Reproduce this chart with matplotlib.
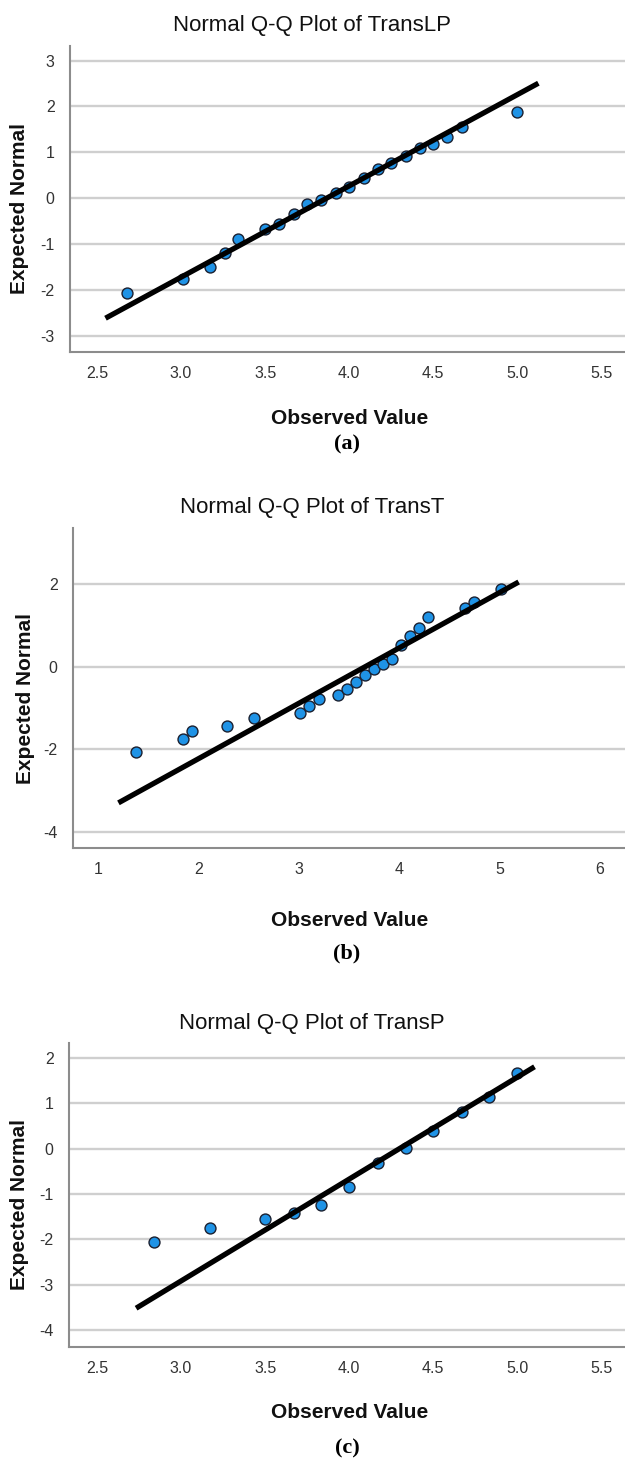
import numpy as np
import matplotlib.pyplot as plt

# panel (a) TransLP
lp_x = [2.68, 3.01, 3.17, 3.26, 3.34, 3.50, 3.58, 3.67, 3.75, 3.83, 3.92,
        4.00, 4.09, 4.17, 4.25, 4.34, 4.42, 4.50, 4.58, 4.67, 5.00]
lp_y = [-2.08, -1.77, -1.50, -1.19, -0.89, -0.68, -0.57, -0.35, -0.13, -0.03, 0.12,
        0.24, 0.43, 0.63, 0.76, 0.93, 1.10, 1.18, 1.34, 1.55, 1.89]
lp_fit = dict(mean=3.866, sd=0.502, xmin=2.551, xmax=5.125)

# panel (b) TransT
t_x = [1.38, 1.84, 1.93, 2.28, 2.55, 3.01, 3.10, 3.20, 3.39, 3.48, 3.57,
       3.66, 3.75, 3.84, 3.93, 4.02, 4.11, 4.20, 4.29, 4.65, 4.74, 5.01]
t_y = [-2.06, -1.76, -1.56, -1.43, -1.24, -1.11, -0.95, -0.79, -0.69, -0.53, -0.36,
       -0.20, -0.06, 0.07, 0.20, 0.53, 0.75, 0.95, 1.20, 1.42, 1.58, 1.90]
t_fit = dict(mean=3.657, sd=0.745, xmin=1.20, xmax=5.19)

# panel (c) TransP
p_x = [2.84, 3.17, 3.50, 3.67, 3.83, 4.00, 4.17, 4.34, 4.50, 4.67, 4.83, 5.00]
p_y = [-2.07, -1.76, -1.56, -1.43, -1.25, -0.85, -0.33, 0.01, 0.39, 0.81, 1.14, 1.67]
p_fit = dict(mean=4.30, sd=0.445, xmin=2.733, xmax=5.102)

titles = ['Normal Q-Q Plot of TransLP', 'Normal Q-Q Plot of TransT', 'Normal Q-Q Plot of TransP']
captions = ['(a)', '(b)', '(c)']
xticks_all = [[2.5, 3.0, 3.5, 4.0, 4.5, 5.0, 5.5], [1, 2, 3, 4, 5, 6], [2.5, 3.0, 3.5, 4.0, 4.5, 5.0, 5.5]]
xfmt = ['{:.1f}', '{:d}', '{:.1f}']
yticks_all = [[-3, -2, -1, 0, 1, 2, 3], [-4, -2, 0, 2], [-4, -3, -2, -1, 0, 1, 2]]
xlims = [(2.34, 5.64), (0.746, 6.25), (2.334, 5.64)]
ylims = [(-3.35, 3.32), (-4.40, 3.36), (-4.37, 2.32)]

W, H = 625.0, 1462.0
# pixel layout: axes left, top, bottom; title y, ylabel x/y, xlabel y, caption y
boxes = [(70, 46, 351.7), (72.9, 528.3, 848.3), (69, 1043.3, 1346.7)]
title_y = [26, 507, 1023]
ylab_xy = [(20, 209), (26, 698), (20, 1205)]
xlab_y = [419, 920, 1413]
cap_y = [444, 953, 1448]

SANS = ['Liberation Sans', 'DejaVu Sans']
BLUE = '#1f93e6'

fig = plt.figure(figsize=(W / 100, H / 100), dpi=100)

def ftext(x, y, s, **kw):
    return fig.text(x / W, 1 - y / H, s, ha='center', va='center', **kw)

def qq_panel(i, xs, ys, fit):
    left, top, bottom = boxes[i]
    ax = fig.add_axes([left / W, 1 - bottom / H, 1 - left / W, (bottom - top) / H])
    ax.scatter(xs, ys, s=62, c=BLUE, edgecolors='#1b2030', linewidths=1.0, zorder=3)
    lx = np.array([fit['xmin'], fit['xmax']])
    ax.plot(lx, (lx - fit['mean']) / fit['sd'], color='black', lw=3.8,
            solid_capstyle='butt', zorder=4)
    ax.set_xlim(*xlims[i])
    ax.set_ylim(*ylims[i])
    ax.set_xticks(xticks_all[i])
    ax.set_xticklabels([xfmt[i].format(v) for v in xticks_all[i]])
    ax.set_yticks(yticks_all[i])
    ax.set_yticklabels([str(v) for v in yticks_all[i]])
    for t in ax.get_xticklabels() + ax.get_yticklabels():
        t.set_family(SANS)
        t.set_fontsize(11.5)
        t.set_color('#333333')
    ax.tick_params(length=0, pad=10)
    ax.tick_params(axis='y', pad=11)
    ax.grid(axis='y', color='#cfcfcf', lw=1.7, zorder=1)
    ax.set_axisbelow(True)
    for side in ['top', 'right']:
        ax.spines[side].set_visible(False)
    for side in ['left', 'bottom']:
        ax.spines[side].set_color('#8c8c8c')
        ax.spines[side].set_linewidth(1.5)
    ftext(312, title_y[i], titles[i], family=SANS, fontsize=16, color='#111111')
    ftext(ylab_xy[i][0], ylab_xy[i][1], 'Expected Normal', family=SANS, fontsize=15,
          fontweight='bold', rotation=90, color='#111111')
    ftext(350, xlab_y[i], 'Observed Value', family=SANS, fontsize=15,
          fontweight='bold', color='#111111')
    ftext(347, cap_y[i], captions[i], family=['Liberation Serif', 'DejaVu Serif'],
          fontsize=16, fontweight='bold')
    return ax

qq_panel(0, lp_x, lp_y, lp_fit)
qq_panel(1, t_x, t_y, t_fit)
qq_panel(2, p_x, p_y, p_fit)

fig.savefig('out.png', dpi=100, facecolor='white')
